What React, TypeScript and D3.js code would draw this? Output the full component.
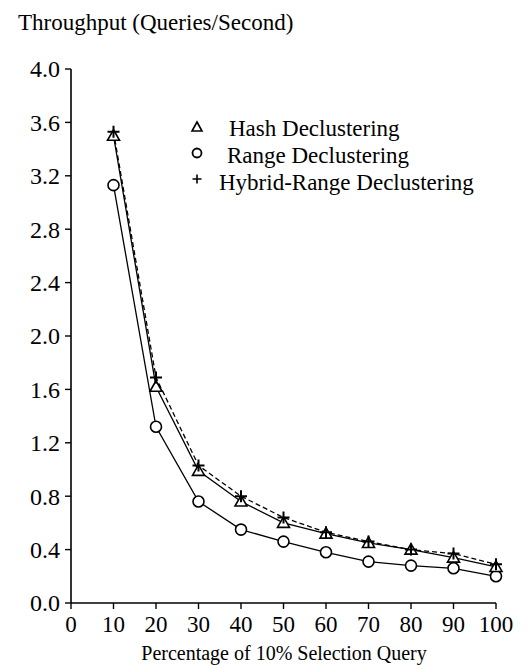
import React from 'react';
import * as d3 from 'd3';

// percentage of 10% selection queries in the mix
const xValues = [10, 20, 30, 40, 50, 60, 70, 80, 90, 100];
const hashValues = [3.50, 1.62, 0.99, 0.76, 0.60, 0.52, 0.45, 0.40, 0.34, 0.27];
const rangeValues = [3.13, 1.32, 0.76, 0.55, 0.46, 0.38, 0.31, 0.28, 0.26, 0.20];
const hybridValues = [3.53, 1.69, 1.03, 0.80, 0.64, 0.53, 0.46, 0.40, 0.37, 0.29];

const xTicks = [0, 10, 20, 30, 40, 50, 60, 70, 80, 90, 100];
const yTicks = [0, 0.4, 0.8, 1.2, 1.6, 2.0, 2.4, 2.8, 3.2, 3.6, 4.0];

const legendLabels = ['Hash Declustering', 'Range Declustering', 'Hybrid-Range Declustering'];

const font = "'Liberation Serif', Tinos, 'Times New Roman', 'DejaVu Serif', serif";

const x = d3.scaleLinear().domain([0, 100]).range([71, 496]);
const y = d3.scaleLinear().domain([0, 4]).range([603, 69]);

const line = d3.line<[number, number]>()
  .x(d => x(d[0]))
  .y(d => y(d[1]));

const pts = (vals: number[]) => xValues.map((v, i) => [v, vals[i]] as [number, number]);

const Triangle = ({ cx, cy }: { cx: number; cy: number }) => (
  <path d={`M${cx},${cy - 6}L${cx + 6},${cy + 4.5}L${cx - 6},${cy + 4.5}Z`}
    fill="white" stroke="black" strokeWidth={1.6} />
);

const Circle = ({ cx, cy }: { cx: number; cy: number }) => (
  <circle cx={cx} cy={cy} r={5.5} fill="white" stroke="black" strokeWidth={1.6} />
);

const Plus = ({ cx, cy }: { cx: number; cy: number }) => (
  <path d={`M${cx - 6},${cy}H${cx + 6}M${cx},${cy - 6}V${cy + 6}`}
    fill="none" stroke="black" strokeWidth={2} />
);

export default function App() {
  return (
    <svg width={530} height={669} style={{ position: 'absolute', left: 0, top: 0, fontFamily: font }}
      fill="black">
      <rect width={530} height={669} fill="white" />

      <text x={18} y={30} fontSize={23}>Throughput (Queries/Second)</text>

      {/* y axis */}
      <line x1={x(0)} x2={x(0)} y1={y(4)} y2={y(0)} stroke="black" strokeWidth={1.6} />
      {yTicks.map(t => (
        <g key={t}>
          <line x1={x(0) - 6} x2={x(0)} y1={y(t)} y2={y(t)} stroke="black" strokeWidth={1.4} />
          <text x={x(0) - 11} y={y(t)} dy="0.35em" textAnchor="end" fontSize={24}>
            {d3.format('.1f')(t)}
          </text>
        </g>
      ))}

      {/* x axis */}
      <line x1={x(0)} x2={x(100)} y1={y(0)} y2={y(0)} stroke="black" strokeWidth={1.6} />
      {xTicks.map(t => (
        <g key={t}>
          <line x1={x(t)} x2={x(t)} y1={y(0)} y2={y(0) + 6} stroke="black" strokeWidth={1.4} />
          <text x={x(t)} y={y(0) + 29} textAnchor="middle" fontSize={23}>{t}</text>
        </g>
      ))}
      <text x={284} y={660} textAnchor="middle" fontSize={20}>Percentage of 10% Selection Query</text>

      {/* series lines */}
      <path d={line(pts(rangeValues)) || ''} fill="none" stroke="black" strokeWidth={1.3} />
      <path d={line(pts(hashValues)) || ''} fill="none" stroke="black" strokeWidth={1.3} />
      <path d={line(pts(hybridValues)) || ''} fill="none" stroke="black" strokeWidth={1.3}
        strokeDasharray="5,3" />

      {pts(rangeValues).map(([a, b]) => <Circle key={a} cx={x(a)} cy={y(b)} />)}
      {pts(hashValues).map(([a, b]) => <Triangle key={a} cx={x(a)} cy={y(b)} />)}
      {pts(hybridValues).map(([a, b]) => <Plus key={a} cx={x(a)} cy={y(b)} />)}

      {/* legend */}
      <g transform="translate(197,0)">
        <path d="M0,122L5,131L-5,131Z" fill="none" stroke="black" strokeWidth={1.6} />
        <circle cx={0} cy={153} r={4.5} fill="none" stroke="black" strokeWidth={1.8} />
        <path d="M-4.5,179H4.5M0,174.5V183.5" stroke="black" strokeWidth={1.6} />
      </g>
      <text x={229} y={136} fontSize={23}>{legendLabels[0]}</text>
      <text x={227} y={163} fontSize={23}>{legendLabels[1]}</text>
      <text x={219} y={190} fontSize={23}>{legendLabels[2]}</text>
    </svg>
  );
}
